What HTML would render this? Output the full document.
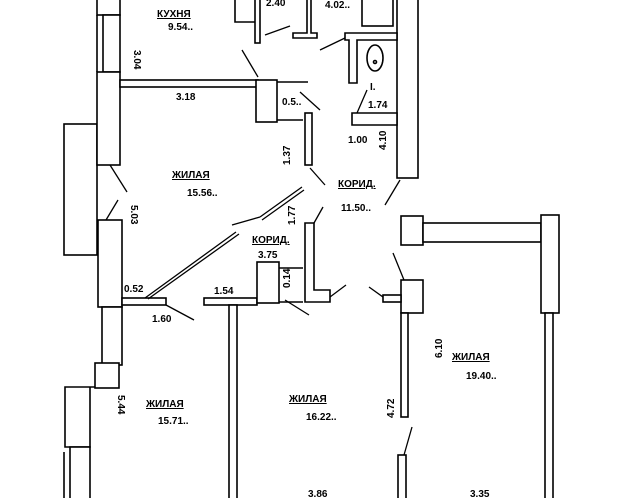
<!DOCTYPE html>
<html><head><style>
html,body{margin:0;padding:0;background:#fff;}
svg{display:block;}
text{font-family:"Liberation Sans",sans-serif;font-size:10px;font-weight:bold;fill:#000;}
.u{text-decoration:underline;}
</style></head><body>
<svg width="640" height="498" viewBox="0 0 640 498" xmlns="http://www.w3.org/2000/svg">
<g fill="#fff" stroke="#000" stroke-width="1.6">
<!-- left outer wall upper -->
<rect x="97" y="-2" width="23" height="17"/>
<rect x="103" y="15" width="17" height="57"/>
<line x1="97" y1="15" x2="97" y2="72"/>
<rect x="64" y="124" width="33" height="131"/>
<rect x="97" y="72" width="23" height="93"/>
<rect x="98" y="220" width="24" height="87"/>
<rect x="102" y="307" width="20" height="58"/>
<rect x="95" y="363" width="24" height="25"/>
<path d="M95 387 H65 V447 H90 V387"/>
<rect x="70" y="447" width="20" height="55"/>
<line x1="64" y1="452" x2="64" y2="498"/>
<!-- interior walls -->
<rect x="120" y="80" width="138" height="7"/>
<rect x="256" y="80" width="21" height="42"/>
<path d="M277 82 H308 M277 120 H303"/>
<rect x="305" y="113" width="7" height="52"/>
<rect x="122" y="298" width="44" height="7"/>
<rect x="204" y="298" width="53" height="7"/>
<rect x="229" y="305" width="8" height="200"/>
<rect x="257" y="262" width="22" height="41"/>
<path d="M279 268 H303 M279 302 H303"/>
<path d="M305 223 H314 V290 H330 V302 H305 Z"/>
<!-- right room -->
<rect x="401" y="216" width="22" height="29"/>
<rect x="423" y="223" width="118" height="19"/>
<rect x="541" y="215" width="18" height="98"/>
<rect x="545" y="313" width="8" height="190"/>
<rect x="401" y="280" width="22" height="33"/>
<rect x="383" y="295" width="18" height="7"/>
<rect x="401" y="313" width="7" height="104"/>
<rect x="398" y="455" width="8" height="50"/>
<!-- top right -->
<rect x="397" y="-2" width="21" height="180"/>
<path d="M235 0 V22 H255"/>
<rect x="255" y="-2" width="5" height="45"/>
<path d="M307 0 V33 H293 V38 H317 V33 H311 V0"/>
<rect x="362" y="-2" width="31" height="28"/>
<path d="M345 33 H397 V40 H357 V83 H349 V40 H345 Z"/>
<ellipse cx="375" cy="58" rx="8" ry="13"/>
<circle cx="375" cy="62" r="1.5"/>
<path d="M352 113 H397 V125 H352 Z"/>
</g>
<g stroke="#000" stroke-width="1.3" fill="none">
<line x1="242" y1="50" x2="258" y2="77"/>
<line x1="265" y1="35" x2="290" y2="26"/>
<line x1="320" y1="50" x2="345" y2="38"/>
<line x1="357" y1="113" x2="367" y2="90"/>
<line x1="300" y1="92" x2="320" y2="110"/>
<line x1="310" y1="168" x2="325" y2="185"/>
<line x1="385" y1="205" x2="400" y2="180"/>
<line x1="110" y1="165" x2="127" y2="192"/>
<line x1="106" y1="220" x2="118" y2="200"/>
<line x1="314" y1="223" x2="323" y2="207"/>
<line x1="232" y1="225" x2="260" y2="217"/>
<path d="M260 217 L302 187 M262 220 L304 190"/>
<path d="M145 298 L236 232 M148 299 L239 234"/>
<line x1="166" y1="305" x2="194" y2="320"/>
<line x1="330" y1="297" x2="346" y2="285"/>
<line x1="285" y1="300" x2="309" y2="315"/>
<line x1="369" y1="287" x2="383" y2="297"/>
<line x1="393" y1="253" x2="404" y2="280"/>
<line x1="412" y1="427" x2="404" y2="455"/>
</g>
<text x="157" y="17" class="u">КУХНЯ</text>
<text x="168" y="30">9.54..</text>
<text x="266" y="6">2.40</text>
<text x="325" y="8">4.02..</text>
<text transform="translate(134,50) rotate(90)">3.04</text>
<text x="176" y="100">3.18</text>
<text x="282" y="105">0.5..</text>
<text x="370" y="90">I.</text>
<text x="368" y="108">1.74</text>
<text x="348" y="143">1.00</text>
<text transform="translate(386,150) rotate(-90)">4.10</text>
<text transform="translate(290,165) rotate(-90)">1.37</text>
<text x="172" y="178" class="u">ЖИЛАЯ</text>
<text x="187" y="196">15.56..</text>
<text x="338" y="187" class="u">КОРИД.</text>
<text x="341" y="211">11.50..</text>
<text transform="translate(295,225) rotate(-90)">1.77</text>
<text transform="translate(131,205) rotate(90)">5.03</text>
<text x="252" y="243" class="u">КОРИД.</text>
<text x="258" y="258">3.75</text>
<text x="124" y="292" font-size="8">0.52</text>
<text transform="translate(290,288) rotate(-90)">0.14</text>
<text x="214" y="294">1.54</text>
<text x="152" y="322">1.60</text>
<text transform="translate(442,358) rotate(-90)">6.10</text>
<text x="452" y="360" class="u">ЖИЛАЯ</text>
<text x="466" y="379">19.40..</text>
<text transform="translate(394,418) rotate(-90)">4.72</text>
<text x="146" y="407" class="u">ЖИЛАЯ</text>
<text x="158" y="424">15.71..</text>
<text transform="translate(118,395) rotate(90)">5.44</text>
<text x="289" y="402" class="u">ЖИЛАЯ</text>
<text x="306" y="420">16.22..</text>
<text x="308" y="497">3.86</text>
<text x="470" y="497">3.35</text>
</svg>
</body></html>
